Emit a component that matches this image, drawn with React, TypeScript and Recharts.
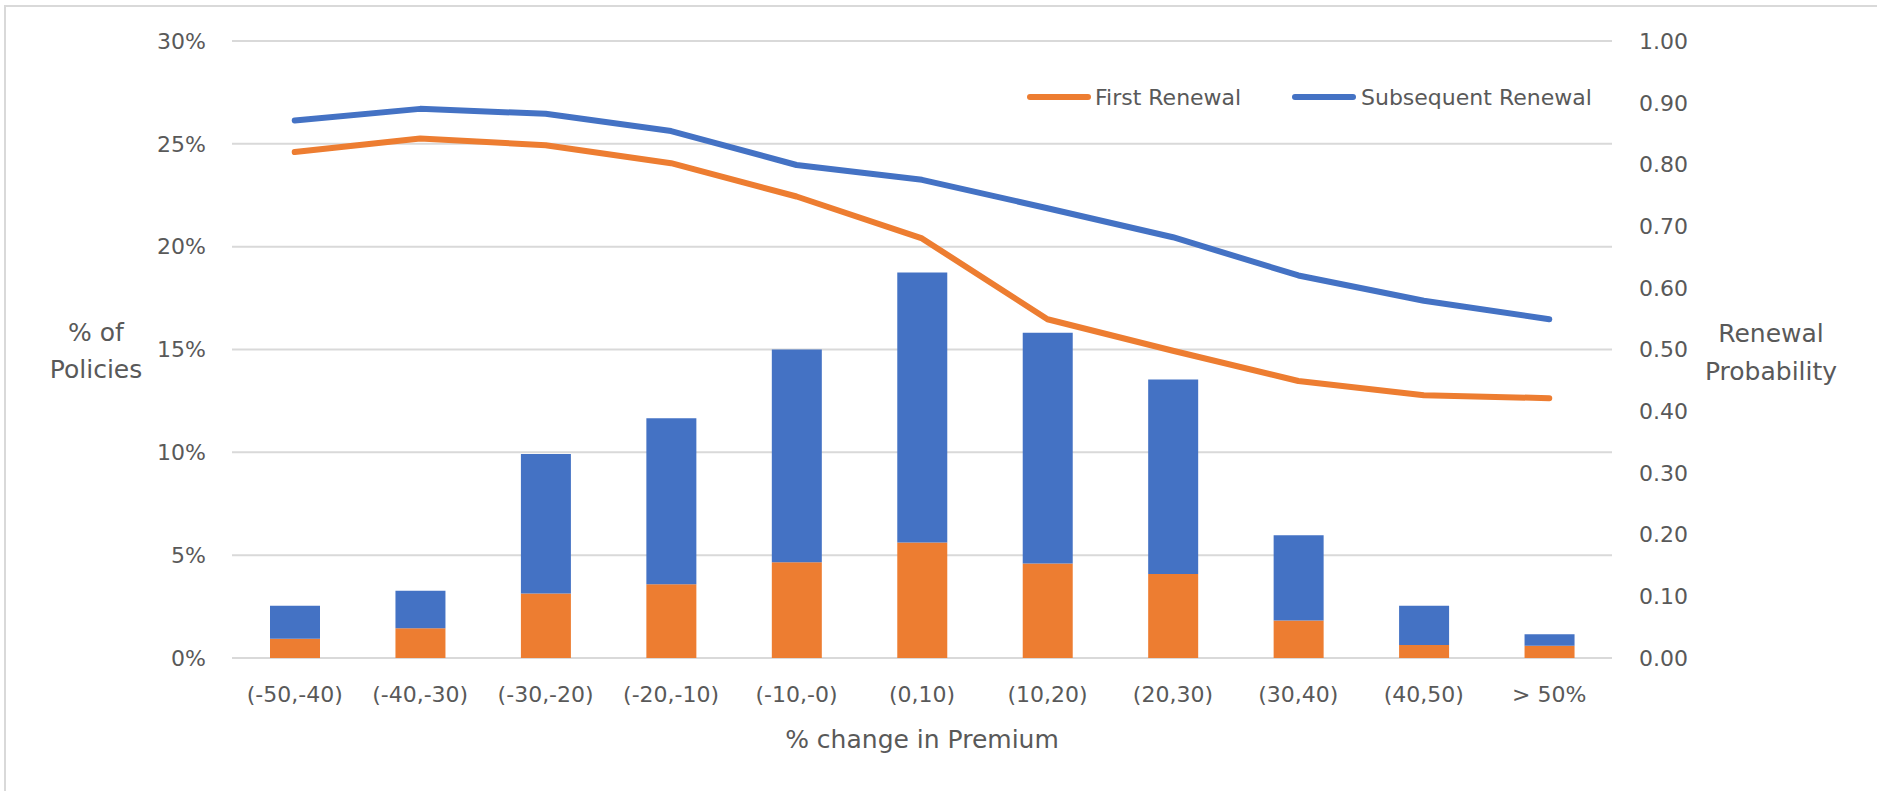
import React from 'react';
import { ComposedChart, Bar, Line, XAxis, YAxis, CartesianGrid } from 'recharts';

const categories = ['(-50,-40)', '(-40,-30)', '(-30,-20)', '(-20,-10)', '(-10,-0)', '(0,10)', '(10,20)', '(20,30)', '(30,40)', '(40,50)', '> 50%'];
// % of policies (stacked bars)
const firstRenewalShare = [0.94, 1.45, 3.14, 3.58, 4.65, 5.61, 4.59, 4.08, 1.82, 0.63, 0.59];
const subsequentRenewalShare = [1.6, 1.82, 6.78, 8.08, 10.35, 13.13, 11.23, 9.46, 4.15, 1.91, 0.56];
// renewal probability (lines, right axis)
const firstRenewalProb = [0.82, 0.842, 0.831, 0.802, 0.748, 0.68, 0.549, 0.498, 0.449, 0.426, 0.421];
const subsequentRenewalProb = [0.871, 0.89, 0.882, 0.854, 0.799, 0.775, 0.729, 0.682, 0.62, 0.579, 0.549];

const leftTicks = [0, 5, 10, 15, 20, 25, 30];
const rightTicks = [0, 0.1, 0.2, 0.3, 0.4, 0.5, 0.6, 0.7, 0.8, 0.9, 1.0];
const legendNames = ['First Renewal', 'Subsequent Renewal'];

const data = categories.map((c, i) => ({
  cat: c,
  firstShare: firstRenewalShare[i],
  subShare: subsequentRenewalShare[i],
  firstProb: firstRenewalProb[i],
  subProb: subsequentRenewalProb[i],
}));

const ORANGE = '#ED7D31';
const BLUE = '#4472C4';
const TEXT = '#595959';
const GRID = '#D9D9D9';
const FONT = '"DejaVu Sans", sans-serif';
const legendColors = [ORANGE, BLUE];
const legendOffsets = [
  { line: 1030, text: 1095 },
  { line: 1295, text: 1361 },
];

export default function App() {
  return (
    <div style={{ position: 'absolute', left: 0, top: 0, width: 1877, height: 791, background: '#fff' }}>
      <ComposedChart
        width={1877}
        height={791}
        data={data}
        margin={{ top: 41, right: 0, bottom: 73, left: 0 }}
        barCategoryGap={0}
      >
        <CartesianGrid yAxisId="left" vertical={false} stroke={GRID} strokeWidth={2} />
        <XAxis
          dataKey="cat"
          axisLine={false}
          tickLine={false}
          tickSize={0}
          tickMargin={28}
          height={60}
          interval={0}
          tick={{ fill: TEXT, fontSize: 22, fontFamily: FONT }}
        />
        <YAxis
          yAxisId="left"
          orientation="left"
          width={232}
          domain={[0, 30]}
          ticks={leftTicks}
          tickFormatter={(v: number) => `${v}%`}
          axisLine={false}
          tickLine={false}
          tickSize={0}
          tickMargin={26}
          tick={{ fill: TEXT, fontSize: 22, fontFamily: FONT }}
        />
        <YAxis
          yAxisId="right"
          orientation="right"
          width={265}
          domain={[0, 1]}
          ticks={rightTicks}
          tickFormatter={(v: number) => v.toFixed(2)}
          axisLine={false}
          tickLine={false}
          tickSize={0}
          tickMargin={27}
          tick={{ fill: TEXT, fontSize: 22, fontFamily: FONT, textAnchor: 'start' }}
        />
        <Bar yAxisId="left" dataKey="firstShare" stackId="a" fill={ORANGE} barSize={50} isAnimationActive={false} name="First Renewal share" />
        <Bar yAxisId="left" dataKey="subShare" stackId="a" fill={BLUE} barSize={50} isAnimationActive={false} name="Subsequent Renewal share" />
        <Line yAxisId="right" type="linear" dataKey="firstProb" name="First Renewal" stroke={ORANGE} strokeWidth={6} strokeLinecap="round" strokeLinejoin="round" dot={false} activeDot={false} isAnimationActive={false} />
        <Line yAxisId="right" type="linear" dataKey="subProb" name="Subsequent Renewal" stroke={BLUE} strokeWidth={6} strokeLinecap="round" strokeLinejoin="round" dot={false} activeDot={false} isAnimationActive={false} />
      </ComposedChart>
      <svg width={1877} height={791} style={{ position: 'absolute', left: 0, top: 0, pointerEvents: 'none' }}>
        <line x1={5} x2={5} y1={5} y2={791} stroke={GRID} strokeWidth={2} />
        <line x1={5} x2={1877} y1={6} y2={6} stroke={GRID} strokeWidth={2} />
        {legendNames.map((name, i) => (
          <g key={name}>
            <line x1={legendOffsets[i].line} x2={legendOffsets[i].line + 58} y1={97} y2={97} stroke={legendColors[i]} strokeWidth={6} strokeLinecap="round" />
            <text x={legendOffsets[i].text} y={105} fill={TEXT} fontSize={22} fontFamily={FONT}>{name}</text>
          </g>
        ))}
        <text x={96} y={341} textAnchor="middle" fill={TEXT} fontSize={25} fontFamily={FONT}>% of</text>
        <text x={96} y={378} textAnchor="middle" fill={TEXT} fontSize={25} fontFamily={FONT}>Policies</text>
        <text x={1771} y={342} textAnchor="middle" fill={TEXT} fontSize={25} fontFamily={FONT}>Renewal</text>
        <text x={1771} y={380} textAnchor="middle" fill={TEXT} fontSize={25} fontFamily={FONT}>Probability</text>
        <text x={922} y={748} textAnchor="middle" fill={TEXT} fontSize={25} fontFamily={FONT}>% change in Premium</text>
      </svg>
    </div>
  );
}
